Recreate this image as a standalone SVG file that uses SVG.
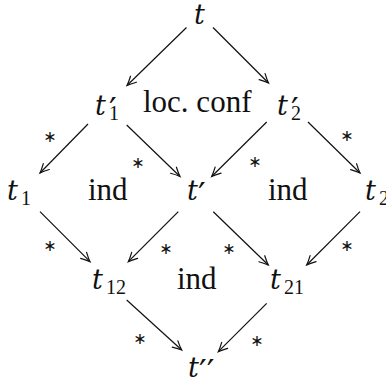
<svg xmlns="http://www.w3.org/2000/svg" width="386" height="387" viewBox="0 0 386 387">
<style>
.m{font-family:"DejaVu Serif",serif;font-style:italic;font-size:27px;fill:#111}
.r{font-family:"Liberation Serif","DejaVu Serif",serif;font-size:31px;fill:#111}
.s{font-family:"Liberation Serif","DejaVu Serif",serif;font-size:20px;fill:#111}
.p{font-family:"DejaVu Sans",sans-serif;font-size:34px;fill:#111}
.st{font-family:"DejaVu Sans",sans-serif;font-size:16px;fill:#111;text-anchor:middle;dominant-baseline:central}
.e{stroke:#111;stroke-width:1.2;fill:none;marker-end:url(#ah)}
</style>
<defs>
<marker id="ah" markerUnits="userSpaceOnUse" markerWidth="14" markerHeight="14" refX="0" refY="0" viewBox="-10 -7 12 14" orient="auto" overflow="visible">
<path d="M-9,-4.2 Q-3.5,-1.2 0,0 Q-3.5,1.2 -9,4.2" fill="none" stroke="#111" stroke-width="1.2" stroke-linecap="round"/>
</marker>
</defs>
<g id="connectors">
<line class="e" x1="186.5" y1="27.5" x2="127" y2="85.5"/>
<line class="e" x1="213" y1="27.5" x2="268.5" y2="83"/>
<line class="e" x1="88" y1="124" x2="40" y2="173"/>
<line class="e" x1="126.7" y1="125" x2="180" y2="176.5"/>
<line class="e" x1="266.7" y1="122" x2="211.7" y2="176.5"/>
<line class="e" x1="308" y1="122" x2="360" y2="173"/>
<line class="e" x1="40" y1="211.7" x2="90" y2="261.7"/>
<line class="e" x1="178.3" y1="211.7" x2="128.3" y2="261.7"/>
<line class="e" x1="213.3" y1="211.7" x2="268.3" y2="265"/>
<line class="e" x1="360" y1="211.7" x2="306.7" y2="265"/>
<line class="e" x1="126.7" y1="300" x2="181.7" y2="350"/>
<line class="e" x1="266.7" y1="303.3" x2="218.3" y2="351.7"/>
<g id="stars">
<text class="st" x="50" y="136">∗</text>
<text class="st" x="138" y="162">∗</text>
<text class="st" x="255" y="161">∗</text>
<text class="st" x="347" y="135">∗</text>
<text class="st" x="50" y="245">∗</text>
<text class="st" x="166" y="248">∗</text>
<text class="st" x="229" y="248">∗</text>
<text class="st" x="347" y="245">∗</text>
<text class="st" x="140" y="338">∗</text>
<text class="st" x="257" y="340">∗</text>
</g>
</g>
<g id="n_t"><text class="m" x="194" y="24">t</text></g>
<g id="n_t1p"><text class="m" x="95" y="115">t</text><text class="p" x="109" y="122">′</text><text class="s" x="109" y="120">1</text></g>
<g id="lbl_locconf"><text class="r" x="143" y="112">loc. conf</text></g>
<g id="n_t2p"><text class="m" x="277" y="115">t</text><text class="p" x="291" y="122">′</text><text class="s" x="291" y="120">2</text></g>
<g id="n_t1"><text class="m" x="7" y="200">t</text><text class="s" x="21" y="205">1</text></g>
<g id="lbl_ind1"><text class="r" x="88" y="200">ind</text></g>
<g id="n_tp"><text class="m" x="187" y="200">t</text><text class="p" x="198" y="207">′</text></g>
<g id="lbl_ind2"><text class="r" x="268" y="200">ind</text></g>
<g id="n_t2"><text class="m" x="365" y="200">t</text><text class="s" x="379" y="205">2</text></g>
<g id="n_t12"><text class="m" x="92" y="289">t</text><text class="s" x="106" y="294">12</text></g>
<g id="lbl_ind3"><text class="r" x="177" y="289">ind</text></g>
<g id="n_t21"><text class="m" x="270" y="289">t</text><text class="s" x="284" y="294">21</text></g>
<g id="n_tpp"><text class="m" x="188" y="377">t</text><text class="p" x="199" y="384">′′</text></g>
</svg>
